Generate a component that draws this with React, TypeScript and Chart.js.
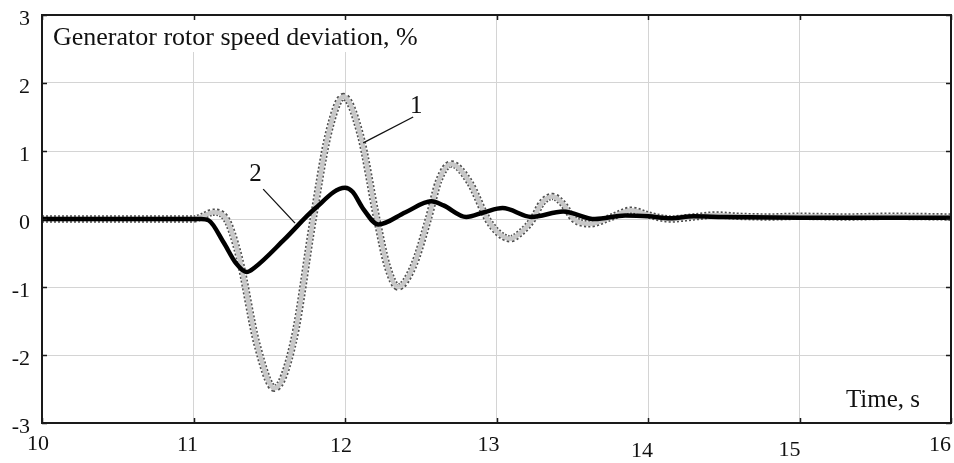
import React, { useEffect, useRef } from "react";
import { Chart, registerables } from "chart.js";

Chart.register(...registerables);

// Curve 1 (grey, double-outlined)
const time1 = [10, 11.0, 11.06, 11.13, 11.21, 11.3, 11.42, 11.535, 11.66, 11.79, 11.89, 11.99, 12.1, 12.21, 12.28, 12.35, 12.45, 12.55, 12.62, 12.7, 12.82, 12.94, 13.01, 13.09, 13.16, 13.24, 13.3, 13.37, 13.44, 13.51, 13.62, 13.75, 13.89, 14.0, 14.15, 14.3, 14.45, 14.6, 14.8, 15.0, 15.3, 15.6, 16.0];
const speed1 = [0, 0, 0.04, 0.1, 0.02, -0.55, -1.85, -2.49, -1.8, 0, 1.25, 1.8, 1.25, 0, -0.7, -1.0, -0.7, 0, 0.57, 0.81, 0.55, 0, -0.2, -0.29, -0.2, 0, 0.24, 0.33, 0.22, 0, -0.07, 0.02, 0.13, 0.06, 0.0, 0.03, 0.06, 0.04, 0.03, 0.04, 0.03, 0.04, 0.03];

// Curve 2 (black)
const time2 = [10, 11.05, 11.1, 11.2, 11.28, 11.35, 11.4, 11.6, 11.8, 12.0, 12.05, 12.12, 12.22, 12.4, 12.57, 12.65, 12.8, 12.92, 13.04, 13.23, 13.44, 13.65, 13.85, 14.0, 14.15, 14.3, 14.5, 15.0, 16.0];
const speed2 = [0, 0, -0.02, -0.35, -0.65, -0.78, -0.72, -0.3, 0.15, 0.46, 0.4, 0.15, -0.08, 0.1, 0.26, 0.2, 0.03, 0.1, 0.16, 0.03, 0.11, 0.0, 0.05, 0.04, 0.01, 0.04, 0.03, 0.02, 0.02];

const xTicks = [10, 11, 12, 13, 14, 15, 16];
const xTickLabels = ["10", "11", "12", "13", "14", "15", "16"];
const yTicks = [-3, -2, -1, 0, 1, 2, 3];
const yTickLabels = ["-3", "-2", "-1", "0", "1", "2", "3"];

const titleText = "Generator rotor speed deviation, %";
const xAxisText = "Time, s";
const curveLabels = ["1", "2"];
// label anchors and leader lines in data units [t, v]
const label1At = [12.47, 1.65];
const leader1 = [[12.12, 1.12], [12.45, 1.5]];
const label2At = [11.41, 0.66];
const leader2 = [[11.46, 0.44], [11.67, -0.06]];

// small offsets of the x tick labels as in the original
const xLabelDx = [-4, -6, -4, -8, -6, -10, -11];
const xLabelDy = [0, 1, 2, 1, 7, 6, 1];

const FONT = "'Liberation Serif', 'Times New Roman', serif";

const toXY = (ts: number[], vs: number[]) => ts.map((t, i) => ({ x: t, y: vs[i] }));

const decorPlugin = {
  id: "decor",
  beforeDatasetsDraw(chart: any) {
    const { ctx, chartArea: a } = chart;
    ctx.save();
    ctx.fillStyle = "#fff";
    ctx.fillRect(a.left + 1, a.top + 1, 392, 36);
    ctx.fillStyle = "#111";
    ctx.font = `26px ${FONT}`;
    ctx.textAlign = "left";
    ctx.textBaseline = "alphabetic";
    ctx.fillText(titleText, a.left + 11, a.top + 30);
    ctx.restore();
  },
  afterDatasetsDraw(chart: any) {
    const { ctx, chartArea: a, scales } = chart;
    const xs = scales.x;
    const ys = scales.y;
    ctx.save();
    ctx.strokeStyle = "#1a1a1a";
    ctx.lineWidth = 2;
    ctx.strokeRect(a.left, a.top, a.right - a.left, a.bottom - a.top);
    ctx.lineWidth = 1.5;
    ctx.beginPath();
    xTicks.forEach((t) => {
      const px = Math.round(xs.getPixelForValue(t)) + 0.5;
      ctx.moveTo(px, a.bottom);
      ctx.lineTo(px, a.bottom - 5);
      ctx.moveTo(px, a.top);
      ctx.lineTo(px, a.top + 5);
    });
    yTicks.forEach((v) => {
      const py = Math.round(ys.getPixelForValue(v)) + 0.5;
      ctx.moveTo(a.left, py);
      ctx.lineTo(a.left + 5, py);
      ctx.moveTo(a.right, py);
      ctx.lineTo(a.right - 5, py);
    });
    ctx.stroke();

    ctx.fillStyle = "#111";
    ctx.font = `22px ${FONT}`;
    ctx.textBaseline = "middle";
    ctx.textAlign = "right";
    yTicks.forEach((v, i) => {
      ctx.fillText(yTickLabels[i], a.left - 12, ys.getPixelForValue(v) + 4);
    });
    ctx.textAlign = "center";
    xTicks.forEach((t, i) => {
      ctx.fillText(xTickLabels[i], xs.getPixelForValue(t) + xLabelDx[i], a.bottom + 21 + xLabelDy[i]);
    });

    ctx.font = `25px ${FONT}`;
    ctx.textAlign = "right";
    ctx.textBaseline = "alphabetic";
    ctx.fillText(xAxisText, a.right - 31, a.bottom - 16);

    ctx.textAlign = "center";
    ctx.textBaseline = "middle";
    ctx.font = `25px ${FONT}`;
    ctx.fillText(curveLabels[0], xs.getPixelForValue(label1At[0]), ys.getPixelForValue(label1At[1]));
    ctx.fillText(curveLabels[1], xs.getPixelForValue(label2At[0]), ys.getPixelForValue(label2At[1]));
    ctx.lineWidth = 1.3;
    ctx.strokeStyle = "#111";
    [leader1, leader2].forEach((seg) => {
      ctx.beginPath();
      ctx.moveTo(xs.getPixelForValue(seg[0][0]), ys.getPixelForValue(seg[0][1]));
      ctx.lineTo(xs.getPixelForValue(seg[1][0]), ys.getPixelForValue(seg[1][1]));
      ctx.stroke();
    });
    ctx.restore();
  },
};

export default function App() {
  const ref = useRef<HTMLCanvasElement | null>(null);
  useEffect(() => {
    document.body.style.margin = "0";
    const canvas = ref.current;
    if (!canvas) return;
    const d1 = toXY(time1, speed1);
    const d2 = toXY(time2, speed2);
    const chart = new Chart(canvas, {
      type: "line",
      data: {
        datasets: [
          {
            label: "2",
            data: d2,
            borderColor: "#000",
            borderWidth: 4.5,
            pointRadius: 0,
            cubicInterpolationMode: "monotone",
            order: 0,
          },
          {
            label: "1 fill",
            data: d1,
            borderColor: "#c8c8c8",
            borderWidth: 4.5,
            pointRadius: 0,
            cubicInterpolationMode: "monotone",
            order: 1,
          },
          {
            label: "1 edge",
            data: d1,
            borderColor: "#505050",
            borderWidth: 7.5,
            borderDash: [2, 2],
            pointRadius: 0,
            cubicInterpolationMode: "monotone",
            order: 2,
          },
        ],
      },
      options: {
        responsive: false,
        animation: false,
        devicePixelRatio: 1,
        layout: { padding: { top: 15, right: 3, left: 0, bottom: 0 } },
        plugins: { legend: { display: false }, tooltip: { enabled: false } },
        scales: {
          x: {
            type: "linear",
            min: 10,
            max: 16,
            afterFit: (s: any) => {
              s.height = 40;
            },
            afterBuildTicks: (s: any) => {
              s.ticks = xTicks.map((v) => ({ value: v }));
            },
            ticks: { display: false },
            grid: { color: "#d4d4d4", lineWidth: 1, drawTicks: false },
            border: { display: false },
          },
          y: {
            type: "linear",
            min: -3,
            max: 3,
            afterFit: (s: any) => {
              s.width = 42;
            },
            afterBuildTicks: (s: any) => {
              s.ticks = yTicks.map((v) => ({ value: v }));
            },
            ticks: { display: false },
            grid: { color: "#d4d4d4", lineWidth: 1, drawTicks: false },
            border: { display: false },
          },
        },
      },
      plugins: [decorPlugin],
    } as any);
    return () => chart.destroy();
  }, []);
  return (
    <div style={{ width: 954, height: 463, background: "#fff" }}>
      <canvas ref={ref} width={954} height={463} style={{ display: "block", width: 954, height: 463 }} />
    </div>
  );
}
